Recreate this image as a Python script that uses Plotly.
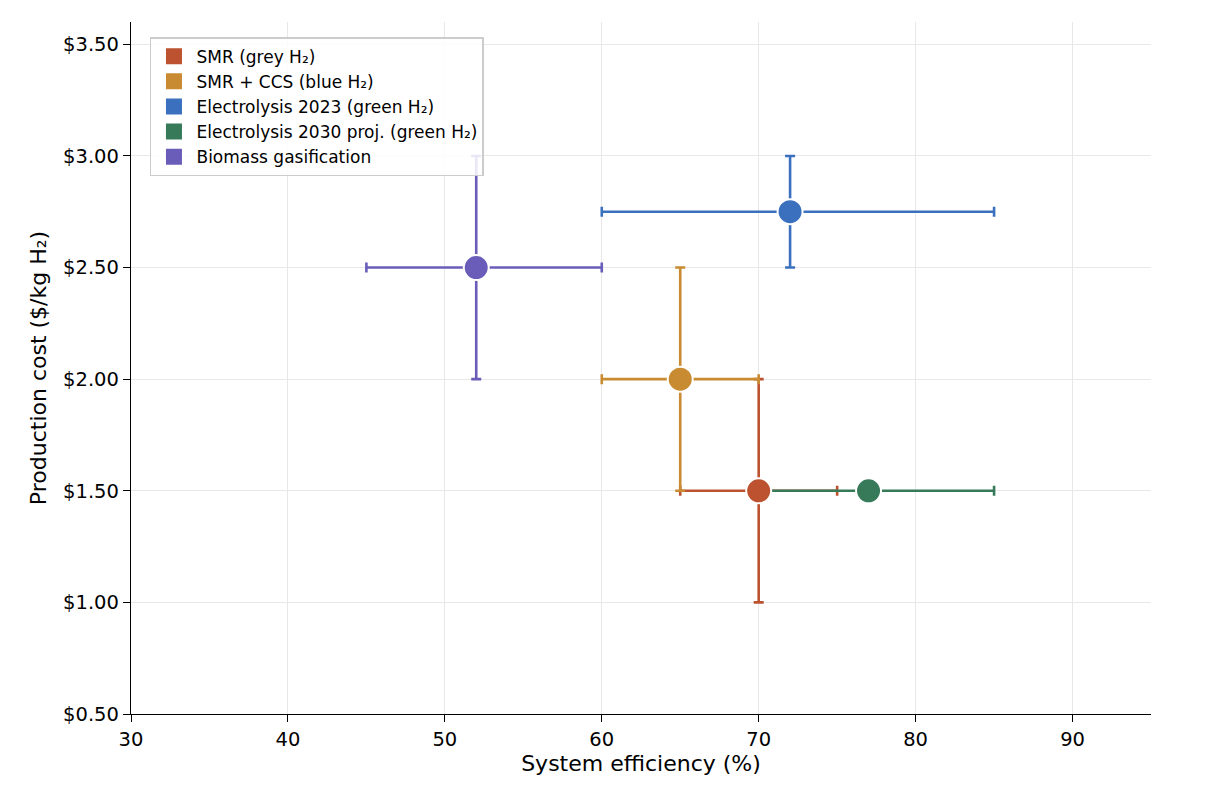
import plotly.graph_objects as go

# Data
pathways = ["SMR (grey H₂)", "SMR + CCS (blue H₂)", "Electrolysis 2023 (green H₂)",
            "Electrolysis 2030 proj. (green H₂)", "Biomass gasification"]
efficiency = [70, 65, 72, 77, 52]
eff_low = [65, 60, 60, 70, 45]
eff_high = [75, 70, 85, 85, 60]
cost = [1.50, 2.00, 2.75, 1.50, 2.50]
cost_low = [1.00, 1.50, 2.50, 1.50, 2.00]
cost_high = [2.00, 2.50, 3.00, 1.50, 3.00]
colors = ["#BC5230", "#C98B31", "#3B70BF", "#377A5A", "#6A5DB9"]

fig = go.Figure()

# error bars first, so every marker sits on top of them
for i, name in enumerate(pathways):
    fig.add_trace(go.Scatter(
        x=[efficiency[i]], y=[cost[i]],
        mode="markers",
        marker=dict(size=1, color="rgba(0,0,0,0)"),
        error_x=dict(type="data", symmetric=False,
                     array=[eff_high[i] - efficiency[i]],
                     arrayminus=[efficiency[i] - eff_low[i]],
                     color=colors[i], thickness=2.6, width=5),
        error_y=dict(type="data", symmetric=False,
                     array=[cost_high[i] - cost[i]],
                     arrayminus=[cost[i] - cost_low[i]],
                     color=colors[i], thickness=2.6, width=5,
                     visible=cost_high[i] != cost_low[i]),
        showlegend=False, hoverinfo="skip",
    ))

for i, name in enumerate(pathways):
    fig.add_trace(go.Scatter(
        x=[efficiency[i]], y=[cost[i]],
        mode="markers", name=name,
        marker=dict(size=25, color=colors[i], line=dict(color="white", width=2)),
        showlegend=False,
    ))

# legend patches
for i, name in enumerate(pathways):
    fig.add_trace(go.Scatter(
        x=[None], y=[None], mode="markers", name=name,
        marker=dict(symbol="square", size=19, color=colors[i]),
    ))

axis_common = dict(
    showline=True, linecolor="black", linewidth=1.3,
    ticks="outside", ticklen=7, tickcolor="black",
    showgrid=True, gridcolor="#E8E8E8", gridwidth=1,
    zeroline=False, mirror=False,
    tickfont=dict(size=19.5, color="black"),
)

# the page adds an 8px body margin, so margins are shifted by 8px
fig.update_layout(
    width=1208, height=788,
    margin=dict(l=123, r=65, t=14, b=82),
    plot_bgcolor="white", paper_bgcolor="white",
    font=dict(family="DejaVu Sans", color="black"),
    legend=dict(x=0.0186, y=0.978, xanchor="left", yanchor="top",
                bgcolor="rgba(255,255,255,0.85)", bordercolor="#CCCCCC", borderwidth=1.5,
                font=dict(size=17), tracegroupgap=0, itemsizing="trace", itemwidth=35),
)
fig.update_xaxes(range=[30, 95], dtick=10, tick0=30,
                 title=dict(text="System efficiency (%)", font=dict(size=22), standoff=6),
                 **axis_common)
fig.update_yaxes(range=[0.5, 3.6], dtick=0.5, tick0=0.5, tickprefix="$", tickformat=".2f",
                 title=dict(text="Production cost ($/kg H₂)", font=dict(size=22), standoff=10),
                 **axis_common)

fig.write_html("out.html")
